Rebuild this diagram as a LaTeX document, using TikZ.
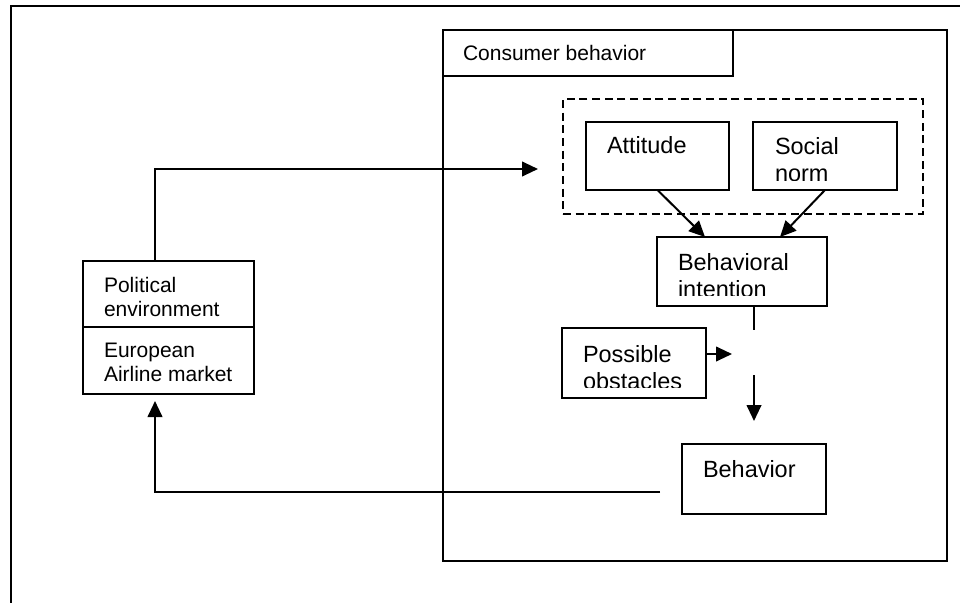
\documentclass[tikz,border=0pt]{standalone}
\usepackage{fontspec}
\setmainfont{Liberation Sans}
\usetikzlibrary{arrows.meta,calc}
\begin{document}
\begin{tikzpicture}[x=0.75pt,y=-0.75pt,
  box/.style={draw,line width=1.5pt,rectangle,inner sep=0pt,outer sep=0pt},
  % multi-line labels are anchored at the baseline of their last line
  txt/.style={anchor=base west,inner sep=0pt,outer sep=0pt,align=left,
    font=\fontsize{17.6}{20.25}\selectfont},
  smalltxt/.style={txt,font=\fontsize{15.75}{18}\selectfont},
  link/.style={line width=1.5pt},
  arrow/.style={link,-{Triangle[length=12pt,width=11pt]}}]
\useasboundingbox (0,0) rectangle (960,603);
\clip (0,0) rectangle (960,603);

% outer frame, running off the page at right and bottom
\draw[line width=1.9pt] (975,6) -- (11,6) -- (11,620);

% consumer behavior block with its title tab
\node[box,line width=2pt,minimum width=378pt,minimum height=398.25pt] (cb) at (695,295.5) {};
\node[box,minimum width=217.5pt,minimum height=34.5pt] (cbl) at (588,53) {};
\node[smalltxt] (cbt) at (463,60) {Consumer behavior};

% dashed group around attitude and social norm
\node[box,dash pattern=on 6pt off 3.5pt,minimum width=270pt,minimum height=86.25pt] (grp) at (743,156.5) {};

\node[box,minimum width=107.25pt,minimum height=51pt] (att) at (657.5,156) {};
\node[txt] (attt) at (607,153) {Attitude};

\node[box,minimum width=108pt,minimum height=51pt] (sn) at (825,156) {};
\begin{scope}
  \clip (sn.north west) rectangle (897,180);
  \node[txt] (snt) at (775,181) {Social\\norm};
\end{scope}

\node[box,minimum width=127.5pt,minimum height=51.75pt] (bi) at (742,271.5) {};
\begin{scope}
  \clip (bi.north west) rectangle (827,295);
  \node[txt] (bit) at (678,297) {Behavioral\\intention};
\end{scope}

\node[box,minimum width=108pt,minimum height=52.5pt] (po) at (634,363) {};
\begin{scope}
  \clip (po.north west) rectangle (706,387);
  \node[txt] (pot) at (583,389) {Possible\\obstacles};
\end{scope}

\node[box,minimum width=108pt,minimum height=52.5pt] (beh) at (754,479) {};
\node[txt] (beht) at (703,477) {Behavior};

% political environment / market block
\node[box,minimum width=128.25pt,minimum height=49.5pt] (pol) at (168.5,294) {};
\node[box,minimum width=128.25pt,minimum height=50.25pt] (mkt) at (168.5,360.5) {};
\node[smalltxt] (polt) at (104,316) {Political\\environment};
\node[smalltxt] (mktt) at (104,381) {European\\Airline market};

% connectors
\draw[arrow] (att.south) -- ($(bi.north)+(-37,0)$);
\draw[arrow] (sn.south) -- ($(bi.north)+(38,0)$);

\coordinate (gapTop) at (754,330);
\coordinate (gapBot) at (754,375);
\coordinate (behIn) at (754,421);
\draw[link] (gapTop |- bi.south) -- (gapTop);
\draw[arrow] (gapBot) -- (behIn);

\coordinate (obsTip) at (732,354);
\draw[arrow] (po.east |- obsTip) -- (obsTip);

\coordinate (up) at (155,169);
\coordinate (grpIn) at (538,169);
\draw[arrow] (pol.north -| up) -- (up) -- (grpIn);

\coordinate (ret) at (660,492);
\coordinate (retTip) at (155,401);
\draw[arrow] (ret) -| (retTip);
\end{tikzpicture}
\end{document}
